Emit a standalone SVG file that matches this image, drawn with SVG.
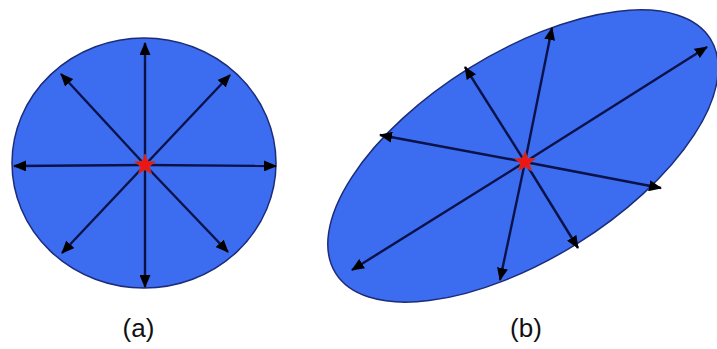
<svg xmlns="http://www.w3.org/2000/svg" width="717" height="349" viewBox="0 0 717 349">
<style>
.shape{fill:#3c6cf0;stroke:#1c2c78;stroke-width:1.5}
.ray{stroke:#0a1248;stroke-width:2.4;fill:none;marker-end:url(#ah)}
.star{fill:#ee1515;stroke:#b04040;stroke-width:0.8}
.lbl{font-family:"Liberation Sans",Arial,sans-serif;font-size:26px;fill:#111;text-anchor:middle}
</style>
<defs>
<marker id="ah" viewBox="0 0 13 11" refX="12" refY="5.5" markerWidth="13" markerHeight="11" markerUnits="userSpaceOnUse" orient="auto">
<path d="M0,0 L13,5.5 L0,11 Z" fill="#000"/>
</marker>
<path id="starShape" d="M0,-11 L2.7,-3.75 L10.46,-3.4 L4.41,1.43 L6.47,8.9 L0,4.65 L-6.47,8.9 L-4.41,1.43 L-10.46,-3.4 L-2.7,-3.75 Z"/>
</defs>
<rect width="717" height="349" fill="#fff"/>
<g id="nodeA">
<ellipse class="shape" cx="144" cy="163" rx="132" ry="125"/>
</g>
<g id="nodeB">
<ellipse class="shape" cx="523" cy="156" rx="221" ry="103" transform="rotate(-32 523 156)"/>
</g>
<g id="connectors">
<line class="ray" x1="145" y1="165" x2="145" y2="43"/>
<line class="ray" x1="145" y1="165" x2="276" y2="166"/>
<line class="ray" x1="145" y1="165" x2="14" y2="166"/>
<line class="ray" x1="145" y1="165" x2="145" y2="287"/>
<line class="ray" x1="145" y1="165" x2="61" y2="74"/>
<line class="ray" x1="145" y1="165" x2="230" y2="75"/>
<line class="ray" x1="145" y1="165" x2="62" y2="253"/>
<line class="ray" x1="145" y1="165" x2="228" y2="252"/>
<line class="ray" x1="525" y1="162" x2="707" y2="47"/>
<line class="ray" x1="525" y1="162" x2="352" y2="270"/>
<line class="ray" x1="525" y1="162" x2="552" y2="28"/>
<line class="ray" x1="525" y1="162" x2="500" y2="280"/>
<line class="ray" x1="525" y1="162" x2="465" y2="67"/>
<line class="ray" x1="525" y1="162" x2="578" y2="248"/>
<line class="ray" x1="525" y1="162" x2="380" y2="135"/>
<line class="ray" x1="525" y1="162" x2="661" y2="188"/>
</g>
<g id="centerA"><use href="#starShape" class="star" transform="translate(145 165)"/></g>
<g id="centerB"><use href="#starShape" class="star" transform="translate(525 162)"/></g>
<g id="labelA"><text class="lbl" x="138.5" y="337">(a)</text></g>
<g id="labelB"><text class="lbl" x="526" y="337">(b)</text></g>
</svg>
